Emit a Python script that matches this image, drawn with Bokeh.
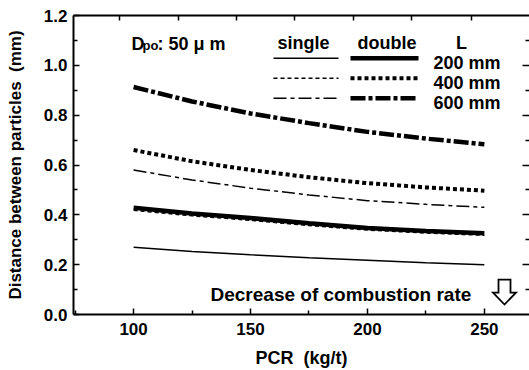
from bokeh.plotting import figure
from bokeh.models import Range1d, LinearAxis, FixedTicker, Label, CustomJSTickFormatter
from bokeh.embed import file_html
from bokeh.resources import INLINE

# ---- data ----
pcr = [100, 125, 150, 175, 200, 225, 250]
single_200 = [0.270, 0.253, 0.240, 0.228, 0.218, 0.208, 0.200]
single_400 = [0.418, 0.396, 0.378, 0.357, 0.339, 0.327, 0.318]
single_600 = [0.580, 0.540, 0.507, 0.480, 0.457, 0.442, 0.430]
double_200 = [0.428, 0.405, 0.387, 0.366, 0.347, 0.335, 0.326]
double_400 = [0.660, 0.615, 0.580, 0.551, 0.527, 0.510, 0.497]
double_600 = [0.913, 0.855, 0.807, 0.768, 0.733, 0.706, 0.683]
x_ticks = [100, 150, 200, 250]
y_ticks = [0.0, 0.2, 0.4, 0.6, 0.8, 1.0, 1.2]
length_labels = ["200 mm", "400 mm", "600 mm"]

FONT = "Liberation Sans"
NB = "\u00a0"
X0, X1 = 74.3, 269.3
Y0, Y1 = 0.0, 1.2

p = figure(width=529, height=370, output_backend="svg", toolbar_location=None,
           x_range=Range1d(X0, X1), y_range=Range1d(Y0, Y1),
           min_border_left=73, min_border_right=0, min_border_top=15, min_border_bottom=55)
p.outline_line_color = None
p.grid.visible = False
p.background_fill_color = "white"
p.border_fill_color = "white"

# pixel -> data helpers for annotations
FL, FR, FT, FB = 73, 529, 15, 315
def dx(px):
    return X0 + (px - FL) / (FR - FL) * (X1 - X0)
def dy(py):
    return Y0 + (FB - py) / (FB - FT) * (Y1 - Y0)

def style_axis(ax, fs):
    ax.axis_line_width = 2
    ax.axis_line_color = "black"
    ax.major_tick_in = 6
    ax.major_tick_out = 0
    ax.minor_tick_in = 4
    ax.minor_tick_out = 0
    ax.major_tick_line_width = 1.5
    ax.minor_tick_line_width = 1.5
    ax.major_label_text_font = FONT
    ax.major_label_text_font_style = "bold"
    ax.major_label_text_font_size = fs
    ax.major_label_text_color = "black"
    ax.axis_label_text_font = FONT
    ax.axis_label_text_font_style = "bold"
    ax.axis_label_text_color = "black"

xa = p.xaxis[0]
style_axis(xa, "17px")
xa.ticker = FixedTicker(ticks=x_ticks, minor_ticks=[75, 125, 175, 225])
xa.axis_label = "PCR" + NB + NB + "(kg/t)"
xa.axis_label_text_font_size = "18px"
xa.major_label_standoff = 8
xa.axis_label_standoff = 10

ya = p.yaxis[0]
style_axis(ya, "17px")
ya.ticker = FixedTicker(ticks=y_ticks, minor_ticks=[0.1, 0.3, 0.5, 0.7, 0.9, 1.1])
ya.formatter = CustomJSTickFormatter(code="return tick.toFixed(1);")
ya.axis_label = "Distance between particles" + NB + NB + "(mm)"
ya.axis_label_text_font_size = "17px"
ya.major_label_standoff = 6
ya.axis_label_standoff = 16

top = LinearAxis(ticker=FixedTicker(ticks=[94, 119, 144, 169, 194, 219, 244.5]))
style_axis(top, "0px")
top.major_tick_in = 5
top.major_label_text_color = None
p.add_layout(top, "above")

right = LinearAxis(ticker=FixedTicker(ticks=[0.2, 0.4, 0.6, 0.8, 1.0],
                                      minor_ticks=[0.1, 0.3, 0.5, 0.7, 0.9, 1.1]))
style_axis(right, "0px")
right.axis_line_color = None
right.major_tick_in = 7
right.minor_tick_in = 4
right.major_label_text_color = None
p.add_layout(right, "right")

# ---- curves ----
styles = {
    "s200": dict(line_width=1.5, line_dash="solid"),
    "s400": dict(line_width=1.5, line_dash="4 3"),
    "s600": dict(line_width=1.5, line_dash="13 4 4 4"),
    "d200": dict(line_width=4.5, line_dash="solid"),
    "d400": dict(line_width=4, line_dash="4 3"),
    "d600": dict(line_width=4.5, line_dash="15 3 4 3"),
}
series = [("s200", single_200), ("s400", single_400), ("s600", single_600),
          ("d200", double_200), ("d400", double_400), ("d600", double_600)]
for key, vals in series:
    p.line(pcr, vals, line_color="black", line_cap="butt", **styles[key])

# ---- legend (hand built) ----
def label(px, py, text, size="18px", align="left"):
    p.add_layout(Label(x=dx(px), y=dy(py), text=text, text_font=FONT,
                       text_font_style="bold", text_font_size=size,
                       text_color="black", text_align=align,
                       text_baseline="alphabetic"))

label(277, 43, "single")
label(357, 43, "double")
label(461, 43, "L", align="center")
rows = [58, 78, 98]
for i, (lab, ry) in enumerate(zip(length_labels, rows)):
    label(433, ry + 5, lab)
    ks = ["s200", "s400", "s600"][i]
    kd = ["d200", "d400", "d600"][i]
    p.line([dx(273), dx(338)], [dy(ry), dy(ry)], line_color="black", line_cap="butt", **styles[ks])
    p.line([dx(350), dx(418)], [dy(ry), dy(ry)], line_color="black", line_cap="butt", **styles[kd])

label(131, 44, "D")
label(142, 45, "po", size="13px")
label(157, 44, ":" + NB + "50" + NB + "\u03bc" + NB + "m")

label(210, 295, "Decrease of combustion rate", size="19px")

# hollow down arrow
ax_ = [dx(498), dx(510), dx(510), dx(515.5), dx(504), dx(492.5), dx(498)]
ay_ = [dy(280), dy(280), dy(293), dy(293), dy(305), dy(293), dy(293)]
p.patch(ax_, ay_, fill_color="white", line_color="black", line_width=1.8, line_join="miter")

open("out.html", "w").write(file_html(p, INLINE))
